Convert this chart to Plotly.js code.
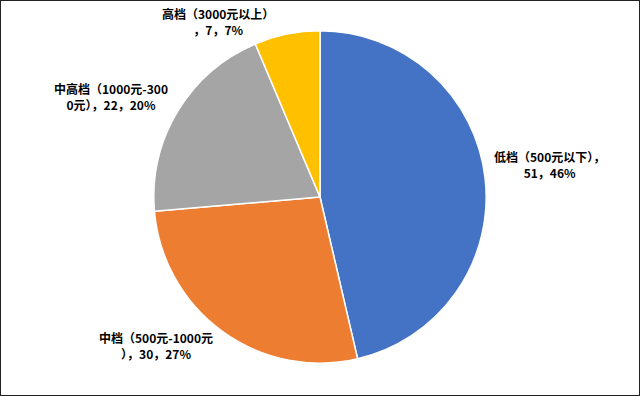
<!DOCTYPE html>
<html>
<head>
<meta charset="utf-8">
<script src="https://cdn.plot.ly/plotly-3.0.1.min.js"></script>
<style>
html,body{margin:0;padding:0;background:#fff;}
#chart{position:absolute;left:0;top:0;width:638px;height:394px;border:1px solid #222;}
</style>
</head>
<body>
<div id="chart"></div>
<script>
// Data
const categories = ["低档（500元以下）", "中档（500元-1000元）", "中高档（1000元-3000元）", "高档（3000元以上）"];
const values = [51, 30, 22, 7];
const percentLabels = ["46%", "27%", "20%", "7%"];
const colors = ["#4472C4", "#ED7D31", "#A5A5A5", "#FFC000"];

// Layout for labels (positions & line-break indices)
const breakAt = [11, 13, 13, 11];
const labelX = [550, 155, 110, 218];
const labelY = [164, 346, 96, 21];

const W = 640, H = 396;

const annotations = categories.map((c, i) => {
  const full = c + "，" + values[i] + "，" + percentLabels[i];
  const txt = full.slice(0, breakAt[i]) + "<br>" + full.slice(breakAt[i]);
  return {
    text: txt,
    x: labelX[i] / W,
    y: 1 - labelY[i] / H,
    xref: "paper", yref: "paper",
    xanchor: "center", yanchor: "middle",
    align: "center",
    showarrow: false,
    font: {family: "Noto Sans CJK SC, sans-serif", size: 12, color: "#000", weight: "bold"}
  };
});

const trace = {
  type: "pie",
  labels: categories,
  values: values,
  sort: false,
  direction: "clockwise",
  rotation: 0,
  textinfo: "none",
  hoverinfo: "none",
  marker: {colors: colors, line: {color: "#fff", width: 1.5}},
  domain: {x: [153 / W, 487 / W], y: [(H - 364) / H, (H - 30) / H]},
  showlegend: false
};

const layout = {
  width: 638, height: 394,
  margin: {l: 0, r: 0, t: 0, b: 0},
  paper_bgcolor: "#fff",
  showlegend: false,
  annotations: annotations
};

Plotly.newPlot("chart", [trace], layout, {displayModeBar: false, staticPlot: true});
</script>
</body>
</html>
